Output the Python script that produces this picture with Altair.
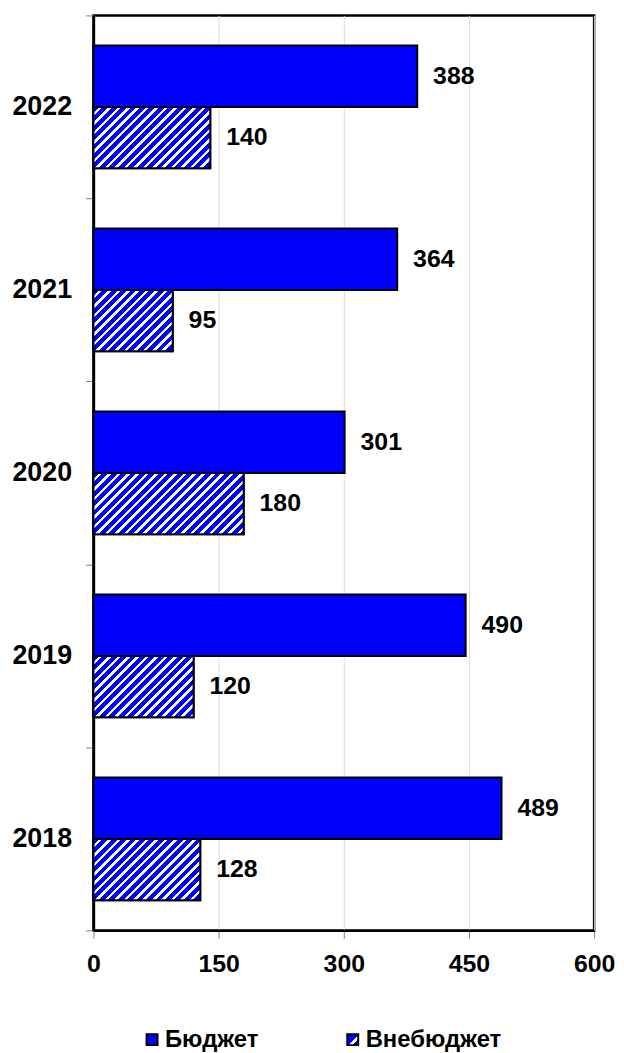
import altair as alt

# ---- data ----
years = ["2018", "2019", "2020", "2021", "2022"]
series = ["Бюджет", "Внебюджет"]
budget = [489, 446, 301, 364, 388]            # bar lengths as drawn
budget_labels = ["489", "490", "301", "364", "388"]  # printed labels
extra = [128, 120, 180, 95, 140]
extra_labels = ["128", "120", "180", "95", "140"]
x_ticks = [0, 150, 300, 450, 600]

# ---- style ----
BLUE = "#0000FF"
FONT = "Liberation Sans"
W_PLOT, H_PLOT = 504, 921
X_MAX = 600
OFF_PAD = 0.4927
BAR_H = H_PLOT / len(years) / (2 + 2 * OFF_PAD)
PERIOD = 9.5
BLUE_FRAC = 0.62
TICK_GRAY = "#808080"


def hatch(w, h):
    """Diagonal '/' stripes as a bounding-box linear gradient."""
    c = (w + h) / (w * w + h * h)
    n = (w + h) / PERIOD
    stops = []
    i = 0
    while i < n:
        a = i / n
        b = min((i + BLUE_FRAC) / n, 1.0)
        e = min((i + 1) / n, 1.0)
        stops += [{"offset": a, "color": BLUE}, {"offset": b, "color": BLUE}]
        if b < 1.0:
            stops += [{"offset": b, "color": "#FFFFFF"}, {"offset": e, "color": "#FFFFFF"}]
        i += 1
    return {"gradient": "linear", "x1": 0, "y1": 0, "x2": c * w, "y2": c * h, "stops": stops}


rows = []
for yr, v, lab in zip(years, budget, budget_labels):
    rows.append({"year": yr, "series": series[0], "value": v, "label": lab})
for yr, v, lab in zip(years, extra, extra_labels):
    rows.append({"year": yr, "series": series[1], "value": v, "label": lab,
                 "grad": hatch(v * W_PLOT / X_MAX, BAR_H)})

data = alt.Data(values=rows)
year_order = years[::-1]

legend_grad = ("{gradient: 'linear', x1: 0, y1: 0, x2: 1, y2: 1, stops: ["
               "{offset: 0, color: '#0000FF'}, {offset: 0.55, color: '#0000FF'},"
               "{offset: 0.55, color: '#FFFFFF'}, {offset: 0.75, color: '#FFFFFF'},"
               "{offset: 0.75, color: '#0000FF'}, {offset: 1, color: '#0000FF'}]}")

y_enc = alt.Y("year:N", sort=year_order,
              scale=alt.Scale(paddingInner=0, paddingOuter=0),
              axis=alt.Axis(title=None, tickBand="extent", tickSize=8, tickColor=TICK_GRAY,
                            tickWidth=1, domainColor="black", domainWidth=2.5,
                            labelFont=FONT, labelFontSize=27, labelFontWeight="bold",
                            labelColor="black", labelPadding=14, grid=False))
yoff_enc = alt.YOffset("series:N", sort=series,
                       scale=alt.Scale(paddingInner=0, paddingOuter=OFF_PAD))
x_enc = alt.X("value:Q", scale=alt.Scale(domain=[0, X_MAX], nice=False),
              axis=alt.Axis(title=None, values=x_ticks, grid=True, gridColor="#DDDDDD",
                            gridWidth=1, tickSize=8, tickColor=TICK_GRAY, tickWidth=1,
                            domainColor="black", domainWidth=2.5, labelFont=FONT,
                            labelFontSize=25, labelFontWeight="bold", labelColor="black",
                            labelPadding=13, labelFlush=False))

base = alt.Chart(data)

bars = base.mark_bar(stroke="black", strokeWidth=2).encode(
    y=y_enc, yOffset=yoff_enc, x=x_enc,
    fill=alt.Fill("series:N",
                  scale=alt.Scale(domain=series, range=[BLUE, alt.ExprRef(expr=legend_grad)]),
                  legend=alt.Legend(orient="none", legendX=47, legendY=1019,
                                    direction="horizontal", title=None,
                                    symbolType="square", symbolSize=121,
                                    symbolStrokeColor="black", symbolStrokeWidth=2,
                                    labelFont=FONT, labelFontSize=24,
                                    labelFontWeight="bold", labelColor="black",
                                    columnPadding=82, labelOffset=1, padding=0)),
)

hatched = base.transform_filter(alt.datum.series == series[1]).mark_bar(
    stroke="black", strokeWidth=2).encode(
    y=y_enc, yOffset=yoff_enc, x=x_enc,
    color=alt.Color("grad:N", scale=None, legend=None),
)

labels = base.mark_text(align="left", baseline="middle", dx=16, font=FONT,
                        fontSize=25, fontWeight="bold", color="black").encode(
    y=y_enc, yOffset=yoff_enc, x=x_enc, text="label:N",
)

chart = alt.layer(bars, hatched, labels).properties(
    width=W_PLOT, height=H_PLOT,
    padding={"left": 86, "top": 4, "right": 22, "bottom": 124},
    autosize="none",
).configure(background="white").configure_view(stroke="black", strokeWidth=2.5)

chart.save("out.html", embed_options={"renderer": "svg", "actions": False})
